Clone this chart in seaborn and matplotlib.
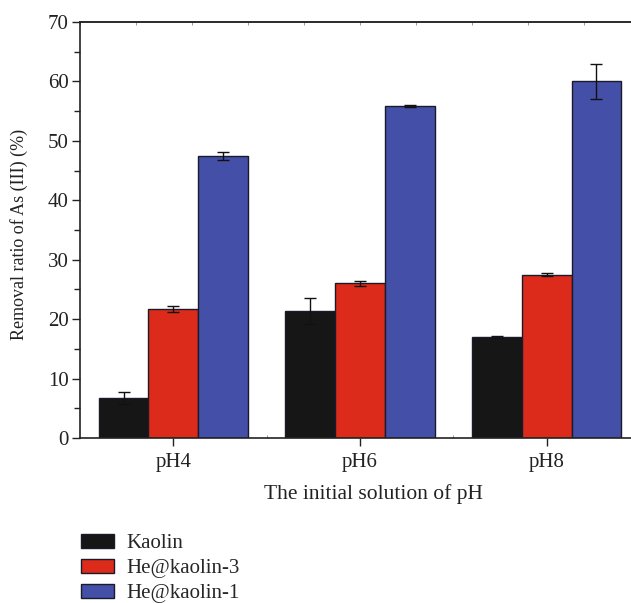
import numpy as np
import pandas as pd
import seaborn as sns
import matplotlib
matplotlib.use('Agg')
import matplotlib.pyplot as plt
from matplotlib.ticker import MultipleLocator, FixedLocator

# data
ph_levels = ['pH4', 'pH6', 'pH8']
materials = ['Kaolin', 'He@kaolin-3', 'He@kaolin-1']
kaolin = [6.7, 21.3, 17.0]
kaolin_err = [1.0, 2.2, 0.2]
he_kaolin_3 = [21.7, 26.0, 27.5]
he_kaolin_3_err = [0.5, 0.5, 0.3]
he_kaolin_1 = [47.5, 55.9, 60.0]
he_kaolin_1_err = [0.7, 0.2, 2.9]

colors = ['#161616', '#dc2b1b', '#4450a8']

values = [kaolin, he_kaolin_3, he_kaolin_1]
errors = [kaolin_err, he_kaolin_3_err, he_kaolin_1_err]

df = pd.DataFrame({
    'pH': ph_levels * 3,
    'Material': [m for m in materials for _ in ph_levels],
    'Removal': kaolin + he_kaolin_3 + he_kaolin_1,
})

sns.set_theme(style='ticks')
plt.rcParams['font.family'] = ['Liberation Serif', 'DejaVu Serif']
plt.rcParams['font.size'] = 15

fig = plt.figure(figsize=(6.31, 6.03), dpi=100)
ax = fig.add_axes([80 / 631, 165 / 603, 560 / 631, 416 / 603])

sns.barplot(data=df, x='pH', y='Removal', hue='Material', order=ph_levels,
            hue_order=materials, palette=colors, width=0.8, saturation=1,
            edgecolor='#1a1a2a', linewidth=1.0, errorbar=None, legend=False, ax=ax)

# error bars at the bar centres
for cont, err in zip(ax.containers, errors):
    xs = [p.get_x() + p.get_width() / 2 for p in cont]
    ys = [p.get_height() for p in cont]
    ax.errorbar(xs, ys, yerr=err, fmt='none', ecolor='#111111',
                elinewidth=1.0, capsize=4, capthick=1.0, zorder=5)

ax.set_xlim(-0.5, 2.5)
ax.set_ylim(0, 70)
ax.yaxis.set_major_locator(MultipleLocator(10))
ax.yaxis.set_minor_locator(MultipleLocator(5))
ax.xaxis.set_minor_locator(FixedLocator([0.5, 1.5]))
ax.tick_params(axis='y', which='major', direction='out', length=6, width=1, pad=2,
               labelsize=15, colors='#222222')
ax.tick_params(axis='y', which='minor', direction='out', length=4, width=1, colors='#222222')
ax.tick_params(axis='x', which='major', direction='out', length=6, width=1, pad=5,
               labelsize=15, colors='#222222')
ax.tick_params(axis='x', which='minor', direction='in', length=2, width=0.6, colors='#888888')
for s in ax.spines.values():
    s.set_linewidth(1.2)
    s.set_color('#222222')

# small ticks on the top spine
top = ax.secondary_xaxis('top')
top.set_xticks(np.arange(-0.5, 2.51, 0.3))
top.set_xticklabels([])
top.tick_params(direction='in', length=2, width=0.6, colors='#888888')
top.spines['top'].set_linewidth(1.2)
top.spines['top'].set_color('#555555')

ax.set_ylabel('Removal ratio of As (III) (%)', fontsize=13, color='#222222')
ax.yaxis.set_label_coords(-(80 - 28) / 560, (438 - 234) / 416)
ax.set_xlabel('')
fig.text(373 / 631, 1 - 494 / 603, 'The initial solution of pH', fontsize=15.5,
         ha='center', va='center', color='#222222')

handles = [plt.Rectangle((0, 0), 1, 1, facecolor=c, edgecolor='#1a1a2a', linewidth=1.0)
           for c in colors]
fig.legend(handles, materials, loc='upper left', bbox_to_anchor=(73 / 631, 1 - 526 / 603),
           frameon=False, fontsize=15, handlelength=1.55, handleheight=0.63,
           labelspacing=0.28, handletextpad=0.6, borderaxespad=0)

fig.savefig('out.png', dpi=100)
